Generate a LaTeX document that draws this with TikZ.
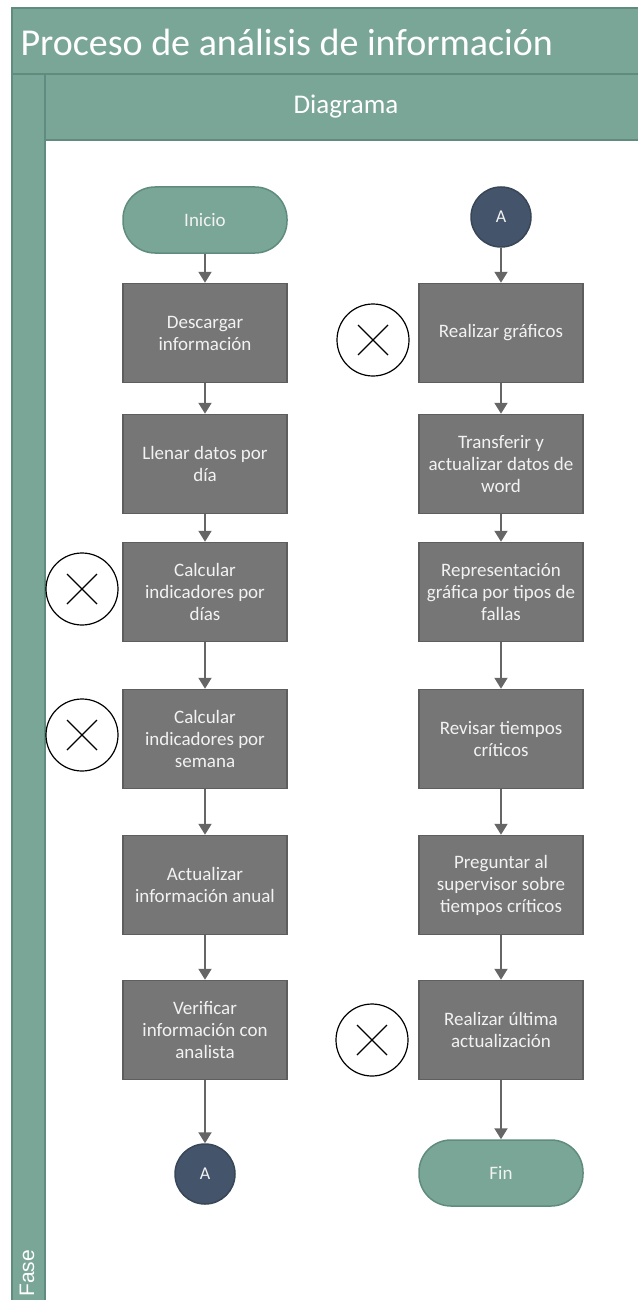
\documentclass[tikz,border=0pt]{standalone}
\usepackage{fontspec}
\setmainfont{Carlito}
\newfontfamily\fasefont{Liberation Sans}
\usetikzlibrary{arrows.meta}
\definecolor{tealFill}{HTML}{7AA698}
\definecolor{tealEdge}{HTML}{5F8C7E}
\definecolor{boxFill}{HTML}{767676}
\definecolor{boxEdge}{HTML}{5E5E5E}
\definecolor{boxText}{HTML}{F2F2F2}
\definecolor{darkFill}{HTML}{44546A}
\definecolor{darkEdge}{HTML}{384658}
\definecolor{flowGray}{HTML}{666666}
\tikzset{
  banda/.style={draw=tealEdge, fill=tealFill, line width=1.5pt},
  terminal/.style={draw=tealEdge, fill=tealFill, line width=1.5pt,
    rounded corners=32pt, minimum width=164pt, minimum height=66pt,
    text=boxText, font=\fontsize{19}{22}\selectfont},
  actividad/.style={draw=boxEdge, fill=boxFill, line width=1.5pt,
    minimum width=164pt, minimum height=99pt, align=center,
    text=boxText, font=\fontsize{19}{22}\selectfont},
  conector/.style={circle, draw=darkEdge, fill=darkFill, line width=1.5pt,
    minimum size=60pt, inner sep=0pt, text=boxText,
    font=\fontsize{18}{20}\selectfont},
  marcaX/.style={circle, draw=black, fill=white, line width=1.2pt,
    minimum size=72pt, inner sep=0pt,
    path picture={
      \draw[line width=1.2pt]
        ([shift={(-15pt,-15pt)}]path picture bounding box.center) --
        ([shift={(15pt,15pt)}]path picture bounding box.center)
        ([shift={(-15pt,15pt)}]path picture bounding box.center) --
        ([shift={(15pt,-15pt)}]path picture bounding box.center);}},
  flujo/.style={draw=flowGray, line width=2pt,
    -{Triangle[width=13pt,length=11pt]}}
}
\begin{document}
\begin{tikzpicture}[x=1pt,y=-1pt]
  \useasboundingbox (0,0) rectangle (637,1300);
  % marco de la fase
  \draw[banda] (12,8) rectangle (648,74);
  \draw[banda] (12,74) rectangle (45,1312);
  \draw[banda] (45,74) rectangle (648,140);
  \node[anchor=west, text=white, font=\fontsize{38}{40}\selectfont]
    (titulo) at (17,42) {Proceso de análisis de información};
  \node[text=white, font=\fontsize{27}{30}\selectfont]
    (diagrama) at (346,107) {Diagrama};
  \node[rotate=90, anchor=base west, inner sep=0pt, text=white,
    font=\fasefont\fontsize{21}{21}\selectfont] (fase) at (34,1297) {Fase};
  % columna izquierda
  \node[terminal] (inicio) at (205,220) {Inicio};
  \node[actividad] (descargar) at (205,333) {Descargar\\información};
  \node[actividad] (llenar) at (205,464) {Llenar datos por\\día};
  \node[actividad] (calcDia) at (205,592) {Calcular\\indicadores por\\días};
  \node[actividad] (calcSem) at (205,739) {Calcular\\indicadores por\\semana};
  \node[actividad] (actualizar) at (205,885) {Actualizar\\información anual};
  \node[actividad] (verificar) at (205,1030) {Verificar\\información con\\analista};
  \node[conector] (conA1) at (205,1174) {A};
  \node[marcaX] (xDia) at (82,589) {};
  \node[marcaX] (xSem) at (82,735) {};
  % columna derecha
  \node[conector] (conA2) at (501,217) {A};
  \node[actividad] (graficos) at (501,333) {Realizar gráficos};
  \node[actividad] (transferir) at (501,464) {Transferir y\\actualizar datos de\\word};
  \node[actividad] (representacion) at (501,592) {Representación\\gráfica por tipos de\\fallas};
  \node[actividad] (revisar) at (501,739) {Revisar tiempos\\críticos};
  \node[actividad] (preguntar) at (501,885) {Preguntar al\\supervisor sobre\\tiempos críticos};
  \node[actividad] (ultima) at (501,1030) {Realizar última\\actualización};
  \node[terminal] (fin) at (501,1173) {Fin};
  \node[marcaX] (xGraf) at (373,340) {};
  \node[marcaX] (xUlt) at (372,1040) {};
  \begin{scope}[flujo]
    \draw (inicio) to (descargar);
    \draw (descargar) to (llenar);
    \draw (llenar) to (calcDia);
    \draw (calcDia) to (calcSem);
    \draw (calcSem) to (actualizar);
    \draw (actualizar) to (verificar);
    \draw (verificar) to (conA1);
    \draw (conA2) to (graficos);
    \draw (graficos) to (transferir);
    \draw (transferir) to (representacion);
    \draw (representacion) to (revisar);
    \draw (revisar) to (preguntar);
    \draw (preguntar) to (ultima);
    \draw (ultima) to (fin);
  \end{scope}
\end{tikzpicture}
\end{document}
